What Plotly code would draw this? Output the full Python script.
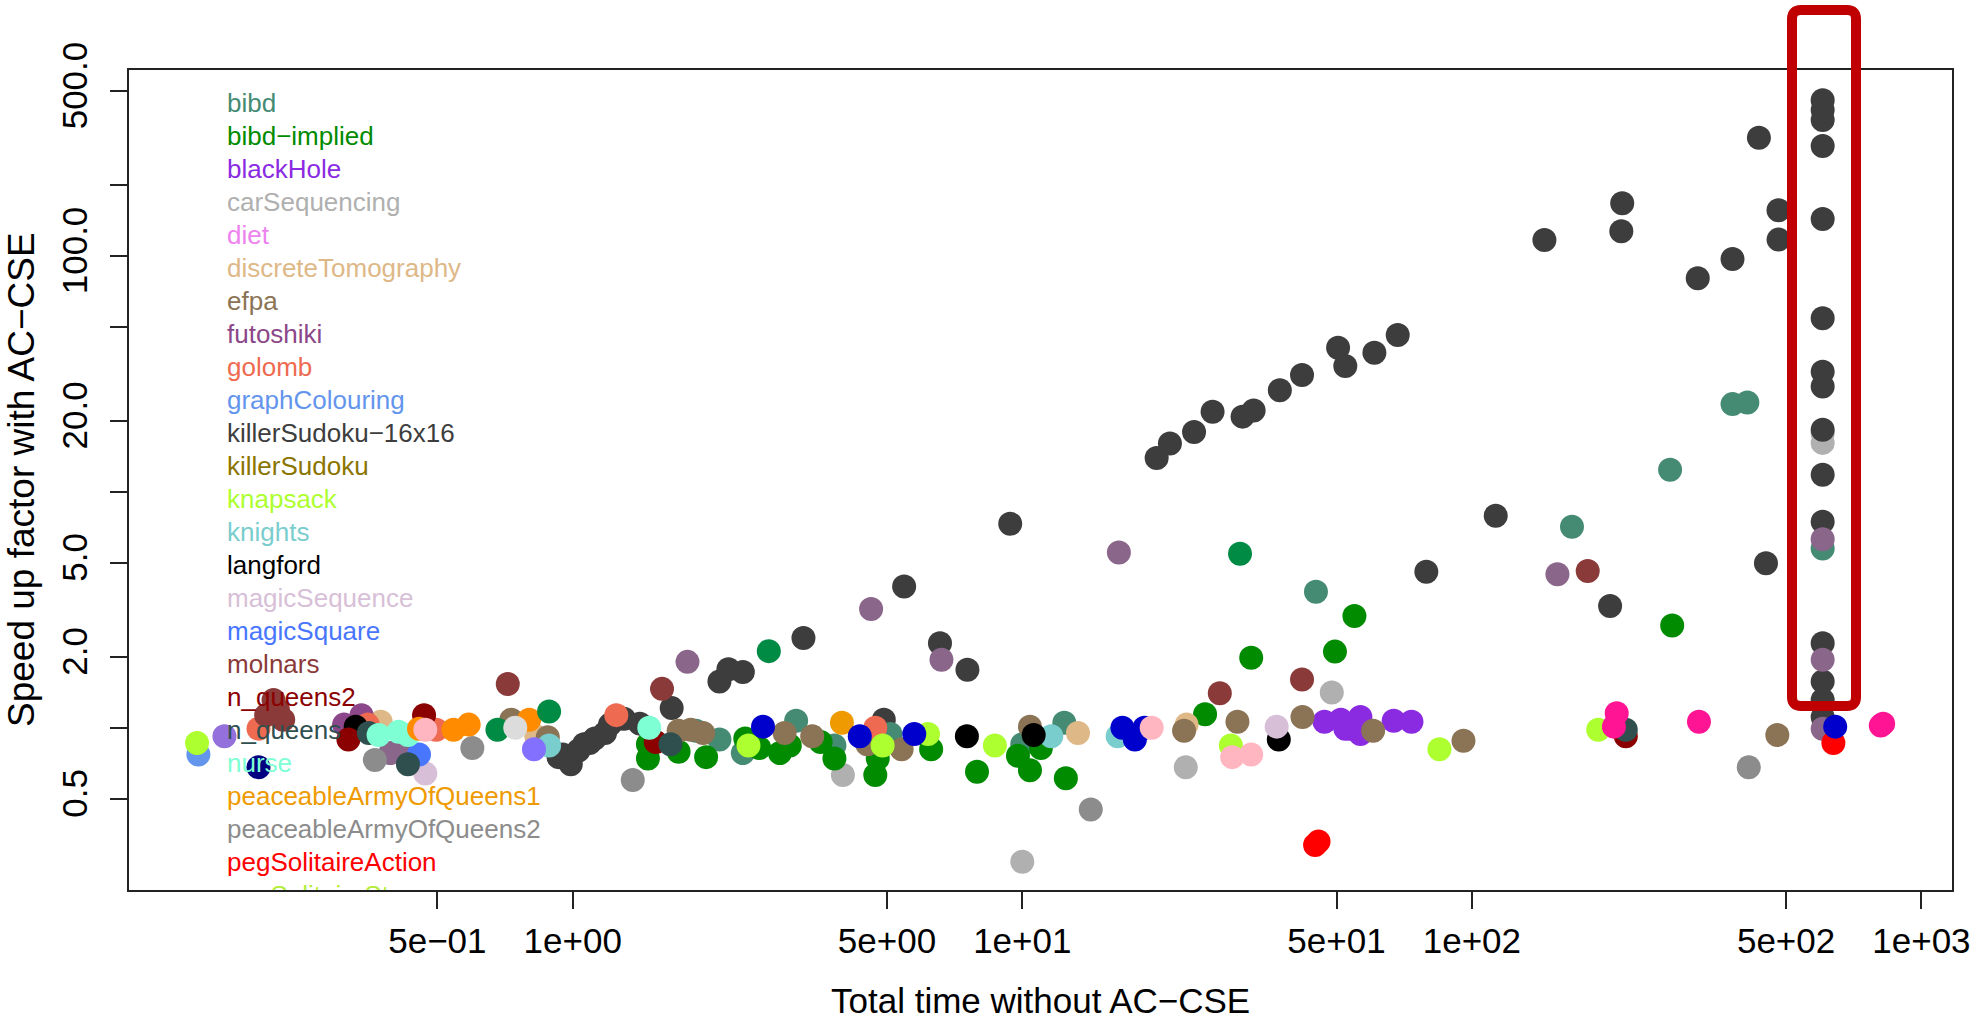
import plotly.graph_objects as go

FONT = "Liberation Sans, Arial, Helvetica, sans-serif"

# ---------------- data (x = total time without AC-CSE, y = speed-up factor) -------------
ks16_x = [0.93, 0.95, 0.99, 1.03, 1.06, 1.09, 1.12, 1.18, 1.21, 1.26, 1.30, 1.41, 1.66,
          2.12, 2.22, 2.39, 3.26, 4.92, 5.46, 6.56, 7.55, 9.40,
          19.9, 21.3, 24.1, 26.5, 30.9, 32.7, 37.4, 41.9, 50.4, 52.3, 60.7, 68.4,
          79.2, 113, 145, 203, 215, 216, 318, 380, 435, 451, 481, 481,
          603, 603, 603, 603, 603, 603, 603, 603, 603, 603, 603, 603, 603, 603, 603]
ks16_y = [0.75, 0.77, 0.70, 0.80, 0.85, 0.86, 0.90, 0.95, 1.03, 1.09, 1.09, 1.04, 1.21,
          1.57, 1.77, 1.72, 2.40, 1.08, 3.96, 2.28, 1.76, 7.31,
          13.9, 16.0, 17.9, 21.8, 20.8, 22.1, 26.9, 31.2, 40.7, 34.1, 38.8, 46.1,
          4.58, 7.91, 116.5, 3.28, 127, 167, 80.2, 96.9, 316, 4.97, 156, 117,
          456, 414, 376, 292, 143, 54.3, 32.2, 27.9, 18.3, 11.8, 7.46, 2.28, 1.57, 1.31, 1.11]

bibd_x = [1.88, 2.12, 2.39, 3.14, 3.82, 5.09, 10.0, 12.4, 45.0, 167, 276, 380, 410, 603]
bibd_y = [0.97, 0.89, 0.78, 1.07, 0.84, 0.94, 0.85, 1.05, 3.77, 7.11, 12.4, 23.5, 23.9, 5.75]

bibdimp_x = [1.47, 1.47, 1.72, 1.98, 2.42, 2.60, 2.89, 3.04, 3.56, 3.82, 4.71, 4.77, 6.27,
             7.93, 9.78, 10.4, 11.0, 12.5, 25.5, 32.3, 49.6, 54.8, 279]
bibdimp_y = [0.74, 0.85, 0.79, 0.75, 0.90, 0.82, 0.78, 0.84, 0.87, 0.74, 0.63, 0.74, 0.81,
             0.65, 0.76, 0.66, 0.82, 0.61, 1.14, 1.98, 2.10, 2.97, 2.71]

blackhole_x = [47.0, 51.1, 52.3, 53.6, 56.5, 56.5, 67.0, 73.4]
blackhole_y = [1.06, 1.08, 0.99, 0.99, 1.11, 0.94, 1.07, 1.06]

carseq_x = [3.99, 10.0, 23.1, 48.8, 603, 603]
carseq_y = [0.63, 0.27, 0.68, 1.41, 17.7, 16.1]

dtomo_x = [0.374, 0.83, 13.3, 23.2]
dtomo_y = [1.06, 0.92, 0.95, 1.03]

efpa_x = [0.73, 0.88, 1.72, 1.83, 1.95, 2.96, 3.41, 4.52, 5.39, 10.4, 22.9, 30.1, 42.0, 60.3, 95.8, 478]
efpa_y = [1.08, 0.91, 0.97, 0.98, 0.95, 0.95, 0.92, 0.85, 0.81, 1.01, 0.97, 1.06, 1.11, 0.97, 0.88, 0.93]

futoshiki_x = [0.31, 0.339]
futoshiki_y = [1.03, 1.13]

plum_x = [0.393, 0.41, 1.80, 4.61, 6.61, 16.4, 155, 603, 603, 603]
plum_y = [0.78, 0.80, 1.90, 3.18, 1.94, 5.52, 4.47, 6.29, 1.94, 0.99]

golomb_x = [0.2, 0.35, 0.497, 1.25, 4.71]
golomb_y = [0.99, 1.03, 0.98, 1.13, 1.0]

graph_x = [0.147]
graph_y = [0.77]

knapsack_x = [0.146, 2.46, 4.89, 6.17, 8.69, 29.1, 84.7, 191]
knapsack_y = [0.86, 0.84, 0.84, 0.94, 0.84, 0.84, 0.81, 0.98]

knights_x = [0.886, 11.6, 16.3]
knights_y = [0.84, 0.92, 0.92]

langford_x = [0.329, 7.53, 10.6, 37.2]
langford_y = [1.01, 0.92, 0.93, 0.89]

magicseq_x = [0.47, 36.8]
magicseq_y = [0.64, 1.01]

magicsq_x = [0.455]
magicsq_y = [0.77]

molnars_x = [0.216, 0.221, 0.208, 0.227, 0.717, 1.58, 27.5, 41.9, 181]
molnars_y = [1.31, 1.19, 1.13, 1.08, 1.53, 1.46, 1.40, 1.60, 4.61]

nq2_x = [0.317, 0.467, 1.53, 220]
nq2_y = [0.89, 1.13, 0.87, 0.92]

nq_x = [0.352, 0.43, 1.65, 220]
nq_y = [0.95, 0.70, 0.85, 0.98]

nurse_x = [0.37, 0.41, 0.43, 1.48]
nurse_y = [0.93, 0.96, 0.93, 1.0]

paq1_x = [3.97]
paq1_y = [1.05]

paq2_x = [0.363, 0.598, 1.36, 14.2, 413]
paq2_y = [0.73, 0.82, 0.60, 0.45, 0.68]

pegact_x = [44.8, 45.6, 637]
pegact_y = [0.318, 0.329, 0.86]

darkorange_x = [0.455, 0.543, 0.587, 0.80]
darkorange_y = [0.99, 0.98, 1.03, 1.08]

springgreen_x = [0.68, 0.886, 2.73, 30.5]
springgreen_y = [0.98, 1.17, 2.11, 5.46]

mediumblue_x = [2.65, 4.35, 5.75, 16.7, 17.8, 18.7, 643]
mediumblue_y = [1.01, 0.92, 0.94, 1.0, 0.89, 1.0, 1.01]

deeppink_x = [207, 210, 320, 812, 822]
deeppink_y = [1.01, 1.15, 1.06, 1.02, 1.04]

lightpink_x = [0.47, 19.4, 29.3, 32.3]
lightpink_y = [0.98, 1.0, 0.75, 0.77]

mediumpurple_x = [0.168]
mediumpurple_y = [0.92]

navy_x = [0.2]
navy_y = [0.68]

lightslate_x = [0.82]
lightslate_y = [0.81]

gainsboro_x = [0.745]
gainsboro_y = [1.0]

# legend (problem classes) and their colours
legend_names = ["bibd", "bibd\u2212implied", "blackHole", "carSequencing", "diet",
                "discreteTomography", "efpa", "futoshiki", "golomb", "graphColouring",
                "killerSudoku\u221216x16", "killerSudoku", "knapsack", "knights", "langford",
                "magicSequence", "magicSquare", "molnars", "n_queens2", "n_queens", "nurse",
                "peaceableArmyOfQueens1", "peaceableArmyOfQueens2", "pegSolitaireAction",
                "pegSolitaireStar"]
legend_colors = ["#458B74", "#008B00", "#8A2BE2", "#B0B0B0", "#EE82EE",
                 "#DEB887", "#8B7355", "#8B4789", "#EE6A50", "#6495ED",
                 "#3D3D3D", "#8B7500", "#ADFF2F", "#79CDCD", "#000000",
                 "#D8BFD8", "#4876FF", "#8B3A3A", "#8B0000", "#2F4F4F", "#7FFFD4",
                 "#EE9A00", "#8C8C8C", "#FF0000", "#B3EE3A"]

x_tickvals = [0.5, 1, 5, 10, 50, 100, 500, 1000]
x_ticktext = ["5e\u221201", "1e+00", "5e+00", "1e+01", "5e+01", "1e+02", "5e+02", "1e+03"]
y_tickvals = [0.5, 1, 2, 5, 10, 20, 50, 100, 200, 500]
y_ticktext = ["0.5", "", "2.0", "5.0", "", "20.0", "", "100.0", "", "500.0"]

# ---------------- figure -------------
series = [
    (carseq_x, carseq_y, "#B0B0B0"),
    (ks16_x, ks16_y, "#3D3D3D"),
    (bibd_x, bibd_y, "#458B74"),
    (bibdimp_x, bibdimp_y, "#008B00"),
    (blackhole_x, blackhole_y, "#8A2BE2"),
    (dtomo_x, dtomo_y, "#DEB887"),
    (efpa_x, efpa_y, "#8B7355"),
    (futoshiki_x, futoshiki_y, "#8B4789"),
    (plum_x, plum_y, "#8B668B"),
    (golomb_x, golomb_y, "#EE6A50"),
    (graph_x, graph_y, "#6495ED"),
    (knapsack_x, knapsack_y, "#ADFF2F"),
    (knights_x, knights_y, "#79CDCD"),
    (langford_x, langford_y, "#000000"),
    (magicseq_x, magicseq_y, "#D8BFD8"),
    (magicsq_x, magicsq_y, "#4876FF"),
    (molnars_x, molnars_y, "#8B3A3A"),
    (nq2_x, nq2_y, "#8B0000"),
    (nq_x, nq_y, "#2F4F4F"),
    (nurse_x, nurse_y, "#7FFFD4"),
    (paq1_x, paq1_y, "#EE9A00"),
    (paq2_x, paq2_y, "#8C8C8C"),
    (pegact_x, pegact_y, "#FF0000"),
    (darkorange_x, darkorange_y, "#FF8C00"),
    (springgreen_x, springgreen_y, "#008B45"),
    (mediumblue_x, mediumblue_y, "#0000CD"),
    (deeppink_x, deeppink_y, "#FF1493"),
    (lightpink_x, lightpink_y, "#FFB6C1"),
    (mediumpurple_x, mediumpurple_y, "#9370DB"),
    (navy_x, navy_y, "#000080"),
    (lightslate_x, lightslate_y, "#8470FF"),
    (gainsboro_x, gainsboro_y, "#DCDCDC"),
]

fig = go.Figure()
for xs, ys, col in series:
    fig.add_trace(go.Scatter(x=xs, y=ys, mode="markers", showlegend=False,
                             marker=dict(size=24, color=col, line=dict(width=0)),
                             hoverinfo="x+y"))

# legend drawn as coloured text (clipped by the plotting box like in R)
W, H = 1977, 1023
L, R, T, B = 129, 25, 70, 133
pw, ph = W - L - R, H - T - B
leg_x0 = (227 - L) / pw
leg_rows = [(H - B - (105 + 33.04 * i)) / ph for i in range(len(legend_names))]
fig.add_trace(go.Scatter(
    x=[leg_x0] * len(legend_names), y=leg_rows, mode="text", text=legend_names,
    textposition="middle right", cliponaxis=True, showlegend=False, hoverinfo="skip",
    textfont=dict(family=FONT, size=26, color=legend_colors),
    xaxis="x2", yaxis="y2"))

axis_common = dict(showgrid=False, zeroline=False, showline=True, mirror=True,
                   linecolor="#222222", linewidth=2, ticks="outside", ticklen=17,
                   tickwidth=1.5, tickcolor="#222222", automargin=False,
                   tickfont=dict(family=FONT, size=35, color="black"))

fig.update_layout(
    width=W, height=H, margin=dict(l=L, r=R, t=T, b=B, autoexpand=False),
    paper_bgcolor="white", plot_bgcolor="white", showlegend=False,
    xaxis=dict(type="log", range=[-0.987, 3.068], tickmode="array",
               tickvals=x_tickvals, ticktext=x_ticktext, ticklabelstandoff=2,
               **axis_common),
    yaxis=dict(type="log", range=[-0.688, 2.787], tickmode="array",
               tickvals=y_tickvals, ticktext=y_ticktext, tickangle=-90,
               ticklabelstandoff=9, **axis_common),
    xaxis2=dict(range=[0, 1], overlaying="x", anchor="y2", visible=False, fixedrange=True),
    yaxis2=dict(range=[0, 1], overlaying="y", anchor="x2", visible=False, fixedrange=True),
    annotations=[
        dict(text="Total time without AC\u2212CSE", xref="paper", yref="paper",
             x=0.5, y=(H - B - 1001) / ph, xanchor="center", yanchor="middle",
             showarrow=False, font=dict(family=FONT, size=35, color="black")),
        dict(text="Speed up factor with AC\u2212CSE", xref="paper", yref="paper",
             x=(21 - L) / pw, y=0.5, xanchor="center", yanchor="middle", textangle=-90,
             showarrow=False, font=dict(family=FONT, size=37, color="black")),
    ],
)

# red highlight box around the timeout column (rounded rectangle)
bx0, bx1 = (1792 - L) / pw, (1856 - L) / pw
by0, by1 = (H - B - 706) / ph, (H - B - 10) / ph
rx, ry = 9 / pw, 9 / ph
path = (f"M {bx0 + rx},{by1} L {bx1 - rx},{by1} Q {bx1},{by1} {bx1},{by1 - ry} "
        f"L {bx1},{by0 + ry} Q {bx1},{by0} {bx1 - rx},{by0} "
        f"L {bx0 + rx},{by0} Q {bx0},{by0} {bx0},{by0 + ry} "
        f"L {bx0},{by1 - ry} Q {bx0},{by1} {bx0 + rx},{by1} Z")
fig.add_shape(type="path", path=path, xref="paper", yref="paper",
              line=dict(color="#C00000", width=10), fillcolor="rgba(0,0,0,0)", layer="above")

fig.write_html("out.html", config={"displayModeBar": False},
               post_script="document.body.style.margin='0px';"
                           "document.body.style.overflow='hidden';")
